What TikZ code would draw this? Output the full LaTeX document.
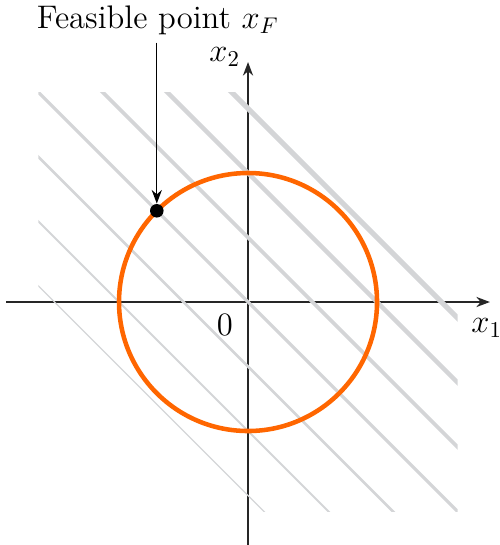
\documentclass[tikz,border=0pt]{standalone}
\usepackage{amsmath, amssymb}
\usepackage{xcolor}
\usepackage{tikz}
\usetikzlibrary{arrows.meta, positioning, calc}

\definecolor{levelgray}{RGB}{212,213,215}
\definecolor{circorange}{RGB}{255,102,0}

\begin{document}
\begin{tikzpicture}[font=\Large,
    axis/.style={line width=0.6pt, black!85, -{Stealth[length=6pt, width=4.5pt]}},
    level/.style={levelgray, line cap=butt}]
  \useasboundingbox (-3.845,-3.767) rectangle (3.891,4.682);
  % ---- axes ----
  \coordinate (xs) at (-3.75,0);
  \coordinate (xe) at (3.75,0);
  \coordinate (ys) at (0,-3.8);
  \coordinate (ye) at (0,3.72);
  \draw[axis] (xs) -- (xe);
  \draw[axis] (ys) -- (ye);
  \node (xone) at (3.7,-0.4) {$x_1$};
  \node (xtwo) at (-0.36,3.8) {$x_2$};
  \node (orig) at (-0.36,-0.36) {$0$};
  % ---- level lines x_1 + x_2 = k ----
  \begin{scope}
    \clip (-3.25,-3.25) rectangle (3.25,3.25);
    \foreach \k in {-3,...,3}
      \draw[level, line width={1.4pt+0.3pt*\k}] (\k-4,4) -- (\k+4,-4);
  \end{scope}
  % ---- feasible set ----
  \draw[circorange, line width=2pt] (0,0) circle (2);
  \node[circle, fill=black, inner sep=0pt, minimum size=0.21cm] (xF) at (135:2) {};
  % ---- label ----
  \node (lbl) at (-1.4,4.37) {Feasible point $x_F$};
  \draw[line width=0.6pt, -{Stealth[length=6pt, width=4.5pt]}]
    (lbl.south -| xF) -- (xF);
\end{tikzpicture}
\end{document}
